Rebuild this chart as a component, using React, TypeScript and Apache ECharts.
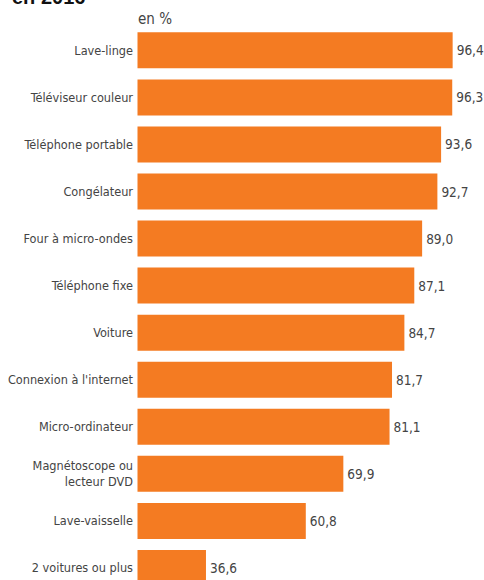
import React, { useEffect, useRef } from "react";
import * as echarts from "echarts";

const categories = [
  "Lave-linge",
  "Téléviseur couleur",
  "Téléphone portable",
  "Congélateur",
  "Four à micro-ondes",
  "Téléphone fixe",
  "Voiture",
  "Connexion à l'internet",
  "Micro-ordinateur",
  "Magnétoscope ou\nlecteur DVD",
  "Lave-vaisselle",
  "2 voitures ou plus",
];
const values = [96.4, 96.3, 93.6, 92.7, 89.0, 87.1, 84.7, 81.7, 81.1, 69.9, 60.8, 36.6];
const titleText = "en 2016";
const unitText = "en %";

const FONT = "'Liberation Sans Narrow', 'DejaVu Sans Condensed', 'Roboto', sans-serif";

export default function App() {
  const ref = useRef<HTMLDivElement>(null);
  useEffect(() => {
    if (!ref.current) return;
    const chart = echarts.init(ref.current, undefined, { renderer: "svg" });
    chart.setOption({
      animation: false,
      backgroundColor: "#ffffff",
      grid: {
        left: 137.5,
        right: 16.5,
        top: 26.8,
        bottom: 8.5,
        containLabel: false,
        outerBoundsMode: "none",
      },
      xAxis: {
        type: "value",
        min: 20,
        max: 100,
        show: false,
      },
      yAxis: {
        type: "category",
        data: categories,
        inverse: true,
        axisLine: { show: false },
        axisTick: { show: false },
        splitLine: { show: false },
        axisLabel: {
          margin: 4.5,
          color: "#444444",
          fontFamily: FONT,
          fontSize: 12.6,
          lineHeight: 16,
          align: "right",
        },
      },
      series: [
        {
          type: "bar",
          data: values,
          barCategoryGap: "23.5%",
          itemStyle: { color: "#F47B22" },
          label: {
            show: true,
            position: "right",
            distance: 4,
            color: "#444444",
            fontFamily: FONT,
            fontSize: 13.5,
            formatter: (p: any) => Number(p.value).toFixed(1).replace(".", ","),
          },
        },
      ],
      graphic: [
        {
          type: "text",
          left: 12,
          top: -13,
          style: {
            text: titleText,
            fill: "#111111",
            font: "bold 20px 'Liberation Sans', Arial, sans-serif",
          },
        },
        {
          type: "text",
          left: 138,
          top: 11,
          style: {
            text: unitText,
            fill: "#444444",
            font: "15px " + FONT,
          },
        },
      ],
    });
    return () => chart.dispose();
  }, []);
  return (
    <div style={{ position: "fixed", left: 0, top: 0, width: 484, height: 580, overflow: "hidden", background: "#fff" }}>
      <div ref={ref} style={{ width: 484, height: 600 }} />
    </div>
  );
}
